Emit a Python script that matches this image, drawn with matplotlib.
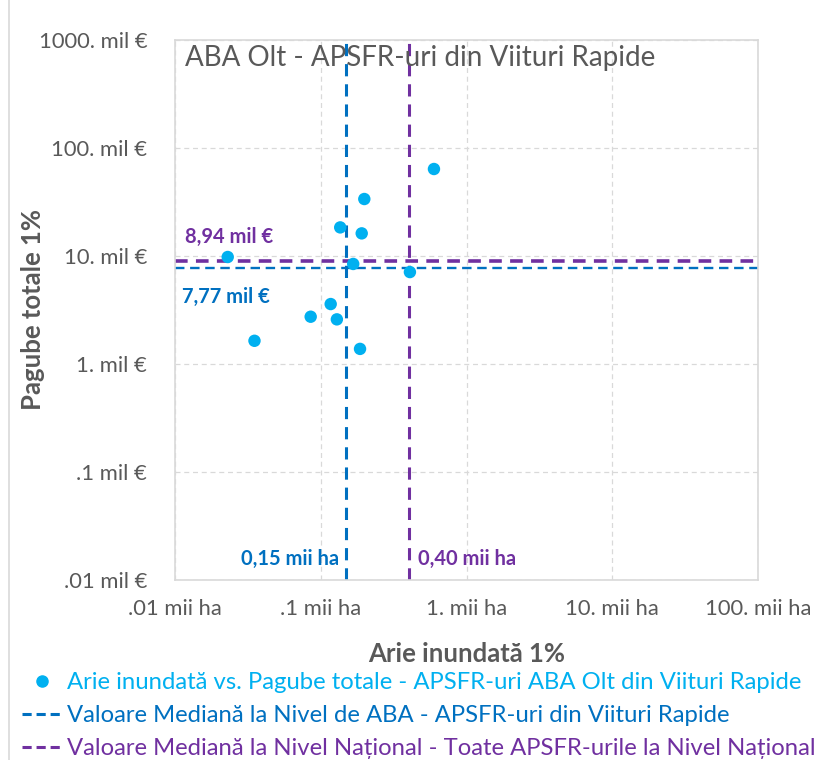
import matplotlib
matplotlib.use("Agg")
import matplotlib.pyplot as plt
from matplotlib.lines import Line2D

plt.rcParams['font.family'] = ['Lato', 'DejaVu Sans']

# Arie inundata 1% (mii ha) vs. Pagube totale 1% (mil EUR)
arie = [0.598, 0.199, 0.136, 0.191, 0.023, 0.167, 0.409, 0.117, 0.0853, 0.129, 0.0351, 0.186]
pagube = [63.9, 33.7, 18.4, 16.2, 9.79, 8.44, 7.10, 3.59, 2.74, 2.59, 1.64, 1.38]

median_aba_x = 0.15
median_aba_y = 7.77
median_nat_x = 0.40
median_nat_y = 8.94

x_ticks = [0.01, 0.1, 1, 10, 100]
x_labels = [".01 mii ha", ".1 mii ha", "1. mii ha", "10. mii ha", "100. mii ha"]
y_ticks = [0.01, 0.1, 1, 10, 100, 1000]
y_labels = [".01 mil €", ".1 mil €", "1. mil €", "10. mil €", "100. mil €", "1000. mil €"]

c_pts = "#00B0F0"
c_aba = "#0070C0"
c_nat = "#7030A0"
c_txt = "#595959"

fig = plt.figure(figsize=(8.27, 7.6), dpi=100)
ax = fig.add_axes([175 / 827, 180 / 760, 583 / 827, 540 / 760])

ax.set_xscale("log")
ax.set_yscale("log")
ax.set_xlim(0.01, 100)
ax.set_ylim(0.01, 1000)
ax.set_xticks(x_ticks)
ax.set_xticklabels(x_labels)
ax.set_yticks(y_ticks)
ax.set_yticklabels(y_labels)
ax.minorticks_off()
ax.tick_params(length=0, labelsize=15.8, colors=c_txt)
ax.tick_params(axis="x", pad=14)
ax.tick_params(axis="y", pad=20)
ax.grid(True, color="#D9D9D9", linestyle=(0, (4, 3)), linewidth=0.9)
ax.set_axisbelow(True)
for s in ax.spines.values():
    s.set_color("#D9D9D9")
    s.set_linewidth(1.2)

dash = (0, (4, 2.6))
ax.axvline(median_aba_x, color=c_aba, linestyle=dash, linewidth=2.2, zorder=2)
ax.axvline(median_nat_x, color=c_nat, linestyle=dash, linewidth=2.2, zorder=2)
ax.axhline(median_aba_y, color=c_aba, linestyle=(0, (4, 2.4)), linewidth=1.7, zorder=2)
ax.axhline(median_nat_y, color=c_nat, linestyle=(0, (3.5, 2.3)), linewidth=2.6, zorder=2)

ax.scatter(arie, pagube, s=80, color=c_pts, zorder=3, edgecolors="none")

ax.text(0.017, 0.99, "ABA Olt - APSFR-uri din Viituri Rapide", transform=ax.transAxes,
        fontsize=20, color=c_txt, va="top", ha="left")

ax.text(0.0118, median_nat_y * 1.68, "8,94 mil €", color=c_nat, fontsize=14.5,
        fontweight="bold", va="center", ha="left")
ax.text(0.0112, median_aba_y / 1.88, "7,77 mil €", color=c_aba, fontsize=14.5,
        fontweight="bold", va="center", ha="left")
ax.text(median_aba_x / 1.13, 0.0155, "0,15 mii ha", color=c_aba, fontsize=14.5,
        fontweight="bold", va="center", ha="right")
ax.text(median_nat_x * 1.16, 0.0155, "0,40 mii ha", color=c_nat, fontsize=14.5,
        fontweight="bold", va="center", ha="left")

ax.set_xlabel("Arie inundată 1%", fontsize=18.5, fontweight="bold", color=c_txt, labelpad=16)
ax.set_ylabel("Pagube totale 1%", fontsize=18.5, fontweight="bold", color=c_txt)
ax.yaxis.set_label_coords(-130 / 583, 0.5)

handles = [
    Line2D([], [], marker="o", linestyle="none", color=c_pts, markersize=8),
    Line2D([], [], color=c_aba, linestyle=(0, (3, 1.6)), linewidth=2.2),
    Line2D([], [], color=c_nat, linestyle=(0, (3, 1.6)), linewidth=2.2),
]
labels = [
    "Arie inundată vs. Pagube totale - APSFR-uri ABA Olt din Viituri Rapide",
    "Valoare Mediană la Nivel de ABA - APSFR-uri din Viituri Rapide",
    "Valoare Mediană la Nivel Național - Toate APSFR-urile la Nivel Național",
]
leg = fig.legend(handles, labels, loc="upper left", bbox_to_anchor=(22 / 827, 1 - 672 / 760),
                 frameon=False, fontsize=17.2, handlelength=1.7, handletextpad=0.2,
                 labelspacing=0.5, borderaxespad=0, borderpad=0)
for t, c in zip(leg.get_texts(), [c_pts, c_aba, c_nat]):
    t.set_color(c)

fig.add_artist(Line2D([9 / 827, 9 / 827], [0, 1], color="#D9D9D9", linewidth=1.2,
                      transform=fig.transFigure))

fig.savefig("out.png", dpi=100)
